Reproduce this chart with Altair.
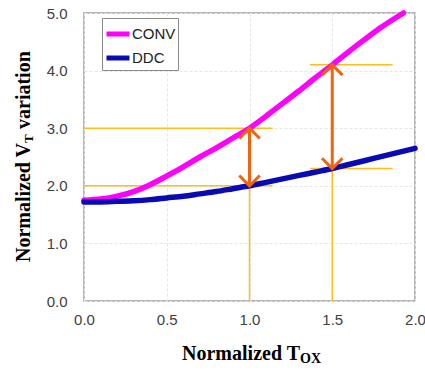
import altair as alt
import pandas as pd

# Normalized V_T variation vs normalized T_OX for the two device types
conv_x = [0.0, 0.1, 0.2, 0.3, 0.4, 0.5, 0.6, 0.7, 0.8, 0.9, 1.0, 1.1, 1.2, 1.3, 1.4, 1.5, 1.6, 1.7, 1.8, 1.93]
conv_y = [1.75, 1.77, 1.82, 1.90, 2.02, 2.17, 2.33, 2.50, 2.66, 2.83, 3.00, 3.21, 3.43, 3.65, 3.88, 4.10, 4.33, 4.55, 4.76, 5.00]
ddc_x = [0.0, 0.1, 0.2, 0.3, 0.4, 0.5, 0.6, 0.7, 0.8, 0.9, 1.0, 1.1, 1.2, 1.3, 1.4, 1.5, 1.6, 1.7, 1.8, 1.9, 2.0]
ddc_y = [1.72, 1.72, 1.73, 1.74, 1.76, 1.79, 1.82, 1.86, 1.90, 1.95, 2.00, 2.06, 2.12, 2.18, 2.24, 2.30, 2.37, 2.44, 2.51, 2.58, 2.65]

series = ["CONV", "DDC"]
series_colors = ["#ff00ff", "#0a0ab4"]

# Yellow guide lines: horizontal levels with their x extent, and verticals up to the DDC curve
h_level = [3.0, 2.0, 4.1, 2.3]
h_from = [0.0, 0.0, 1.365, 1.365]
h_to = [1.14, 1.14, 1.865, 1.865]
v_at = [1.0, 1.5]
v_top = [2.0, 2.3]

# Orange double arrows between the curves
arrow_x = [1.0, 1.5]
arrow_hi = [3.0, 4.1]
arrow_lo = [2.0, 2.3]

curves = pd.DataFrame(
    {"tox": conv_x + ddc_x,
     "vt": conv_y + ddc_y,
     "device": ["CONV"] * len(conv_x) + ["DDC"] * len(ddc_x)}
)
hlines = pd.DataFrame({"y": h_level, "x1": h_from, "x2": h_to})
vlines = pd.DataFrame({"x": v_at, "y1": [0.0] * len(v_at), "y2": v_top})
arrows = pd.DataFrame({"x": arrow_x, "hi": arrow_hi, "lo": arrow_lo})

W, H = 331, 288
xs = alt.Scale(domain=[0, 2], nice=False)
ys = alt.Scale(domain=[0, 5], nice=False)

x_axis = alt.Axis(values=[0, 0.5, 1.0, 1.5, 2.0], format=".1f", title=None, labelFlush=False)
y_axis = alt.Axis(values=[0, 1, 2, 3, 4, 5], format=".1f", title=None, labelFlush=False)

guide_color = "#ffbe1a"
arrow_color = "#f0640f"

h_layer = alt.Chart(hlines).mark_rule(color=guide_color, strokeWidth=1.5).encode(
    x=alt.X("x1:Q", scale=xs, axis=x_axis), x2="x2:Q",
    y=alt.Y("y:Q", scale=ys, axis=y_axis),
)
v_layer = alt.Chart(vlines).mark_rule(color=guide_color, strokeWidth=1.5).encode(
    x=alt.X("x:Q", scale=xs), y=alt.Y("y1:Q", scale=ys), y2="y2:Q"
)

line_layer = alt.Chart(curves).mark_line(strokeWidth=5.5, interpolate="monotone", strokeCap="round").encode(
    x=alt.X("tox:Q", scale=xs),
    y=alt.Y("vt:Q", scale=ys),
    color=alt.Color(
        "device:N",
        scale=alt.Scale(domain=series, range=series_colors),
        legend=alt.Legend(
            title=None, orient="none", legendX=18, legendY=5,
            symbolType="stroke", symbolStrokeWidth=5, symbolSize=529,
            labelFont="Liberation Sans", labelFontSize=15, labelColor="#222222",
            labelOffset=0, rowPadding=0, padding=2,
            strokeColor="#8a8a8a", fillColor="white",
        ),
    ),
)

shaft = alt.Chart(arrows).mark_rule(color=arrow_color, strokeWidth=3).encode(
    x=alt.X("x:Q", scale=xs), y=alt.Y("lo:Q", scale=ys), y2="hi:Q"
)
head_up = alt.Chart(arrows).mark_point(
    shape="M-1,1L0,0L1,1", filled=False, color=arrow_color, strokeWidth=3, size=420, opacity=1
).encode(x=alt.X("x:Q", scale=xs), y=alt.Y("hi:Q", scale=ys))
head_down = alt.Chart(arrows).mark_point(
    shape="M-1,-1L0,0L1,-1", filled=False, color=arrow_color, strokeWidth=3, size=420, opacity=1
).encode(x=alt.X("x:Q", scale=xs), y=alt.Y("lo:Q", scale=ys))

# Axis titles with subscripts, set as separate text pieces
one = alt.Data(values=[{"k": 1}])
title_font = "Liberation Serif"

def label(txt, px, py, size, align, angle=0):
    return alt.Chart(one).mark_text(
        text=txt, font=title_font, fontWeight="bold", fontSize=size,
        align=align, baseline="alphabetic", angle=angle, color="black",
    ).encode(x=alt.value(px), y=alt.value(py))

y_join = 130
titles = [
    label("Normalized T", 216, 347, 20, "right"),
    label("OX", 216, 350, 14, "left"),
    label("Normalized V", -54, y_join, 20, "right", 270),
    label("T", -51, y_join, 13, "left", 270),
    label("variation", -54, y_join - 14, 20, "left", 270),
]

chart = alt.layer(h_layer, v_layer, line_layer, shaft, head_up, head_down, *titles).properties(
    width=W, height=H,
    autosize=alt.AutoSizeParams(type="none"),
    padding={"left": 84, "top": 13, "right": 10, "bottom": 70},
).configure_view(
    stroke="#a0a0a0", strokeWidth=1.5
).configure_axis(
    grid=True, gridColor="#e6e6e6", gridWidth=1, gridDash=[3, 2],
    domain=False, ticks=False,
    labelFont="Liberation Sans", labelFontSize=15, labelColor="#404040",
).configure_axisY(labelPadding=17).configure_axisX(labelPadding=11)

chart.save("out.html", embed_options={"renderer": "svg", "actions": False})
